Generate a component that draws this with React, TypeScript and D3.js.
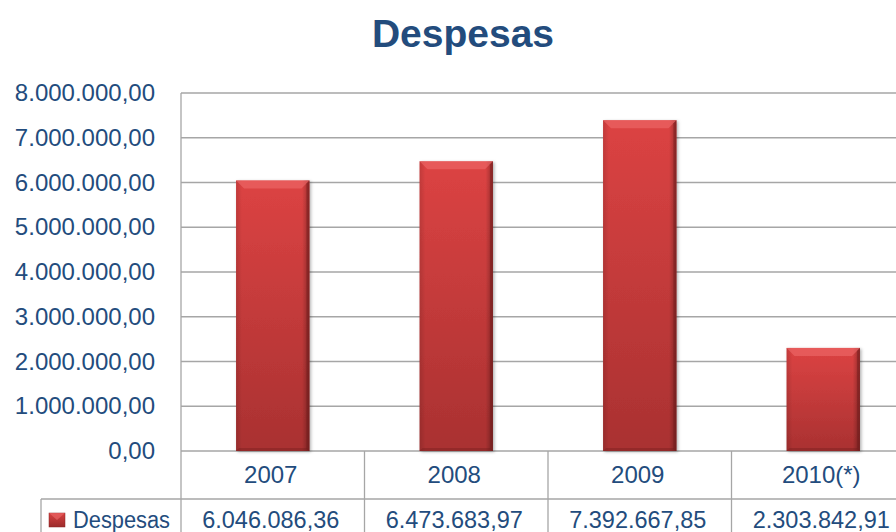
import React from "react";
import * as d3 from "d3";

const categories = ["2007", "2008", "2009", "2010(*)"];
const values = [6046086.36, 6473683.97, 7392667.85, 2303842.91];
const valueLabels = ["6.046.086,36", "6.473.683,97", "7.392.667,85", "2.303.842,91"];
const yTicks = [0, 1000000, 2000000, 3000000, 4000000, 5000000, 6000000, 7000000, 8000000];
const seriesName = "Despesas";
const title = "Despesas";

const W = 896;
const H = 532;
const left = 181;
const right = 915;
const top = 93;
const bottom = 451;
const headerBottom = 499;
const tableLeft = 41;
const textColor = "#234c7d";
const gridColor = "#a6a6a6";
const font = "'Liberation Sans', Arial, sans-serif";

function fmt(v: number) {
  const s = d3.format(",.2f")(v);
  return s.replace(/,/g, "#").replace(".", ",").replace(/#/g, ".");
}

export default function App() {
  const x = d3.scaleBand<string>().domain(categories).range([left, right]).paddingInner(0.6).paddingOuter(0.3);
  const xb = d3.scaleBand<string>().domain(categories).range([left, right]);
  const y = d3.scaleLinear().domain([0, 8000000]).range([bottom, top]);

  return (
    <svg width={W} height={H} style={{ display: "block", position: "absolute", left: 0, top: 0, background: "#fff" }}>
      <defs>
        <linearGradient id="barV" x1="0" y1="0" x2="0" y2="1">
          <stop offset="0" stopColor="#dc4343" />
          <stop offset="1" stopColor="#a93131" />
        </linearGradient>
        <linearGradient id="barH" x1="0" y1="0" x2="1" y2="0">
          <stop offset="0" stopColor="#000" stopOpacity="0.12" />
          <stop offset="0.08" stopColor="#000" stopOpacity="0" />
          <stop offset="0.9" stopColor="#000" stopOpacity="0" />
          <stop offset="1" stopColor="#000" stopOpacity="0.3" />
        </linearGradient>
        <linearGradient id="legV" x1="0" y1="0" x2="0" y2="1">
          <stop offset="0" stopColor="#d84040" />
          <stop offset="1" stopColor="#9c2c2c" />
        </linearGradient>
        <filter id="sh" x="-20%" y="-5%" width="140%" height="110%">
          <feDropShadow dx="1.5" dy="1" stdDeviation="1.5" floodColor="#000" floodOpacity="0.3" />
        </filter>
      </defs>
      <rect x={0} y={0} width={W} height={H} fill="#ffffff" />
      <text x={463} y={47} textAnchor="middle" fontFamily={font} fontWeight="bold" fontSize={39} fill="#234c7d">
        {title}
      </text>

      {yTicks.map((t) => (
        <g key={t}>
          <line x1={left} x2={right} y1={y(t)} y2={y(t)} stroke={gridColor} strokeWidth={1.3} />
          <text x={155} y={y(t) + 8} textAnchor="end" fontFamily={font} fontSize={24} fill={textColor}>
            {fmt(t)}
          </text>
        </g>
      ))}
      <line x1={left} x2={left} y1={top} y2={H} stroke={gridColor} strokeWidth={1.3} />

      {categories.map((c, i) => {
        const bx = x(c)!;
        const bw = x.bandwidth();
        const by = y(values[i]);
        const bh = bottom - by;
        const bev = 8;
        return (
          <g key={c}>
            <g filter="url(#sh)">
              <rect x={bx} y={by} width={bw} height={bh} fill="url(#barV)" />
            </g>
            <rect x={bx} y={by} width={bw} height={bh} fill="url(#barH)" />
            <path
              d={`M${bx},${by}L${bx + bw},${by}L${bx + bw - bev},${by + bev}L${bx + bev},${by + bev}Z`}
              fill="#f07070"
              opacity={0.55}
            />
            <path
              d={`M${bx + bw},${by}L${bx + bw},${bottom}L${bx + bw - 3},${bottom - 2}L${bx + bw - 3},${by + 3}Z`}
              fill="#6e1a1a"
              opacity={0.45}
            />
            <path
              d={`M${bx},${bottom}L${bx + bw},${bottom}L${bx + bw - 3},${bottom - 3}L${bx + 3},${bottom - 3}Z`}
              fill="#6e1a1a"
              opacity={0.35}
            />
          </g>
        );
      })}

      {/* data table */}
      <line x1={tableLeft} x2={W} y1={headerBottom} y2={headerBottom} stroke={gridColor} strokeWidth={1.3} />
      <line x1={tableLeft} x2={tableLeft} y1={headerBottom} y2={H} stroke={gridColor} strokeWidth={1.3} />
      {categories.map((c, i) => {
        const cx = xb(c)! + xb.bandwidth() / 2;
        return (
          <g key={"t" + c}>
            <line x1={xb(c)! + xb.bandwidth()} x2={xb(c)! + xb.bandwidth()} y1={bottom} y2={H} stroke={gridColor} strokeWidth={1.3} />
            <text x={cx - 2} y={483} textAnchor="middle" fontFamily={font} fontSize={24} fill={textColor}>
              {c}
            </text>
            <text x={cx - 2} y={528} textAnchor="middle" fontFamily={font} fontSize={23.5} fill={textColor}>
              {valueLabels[i]}
            </text>
          </g>
        );
      })}
      <rect x={49} y={513} width={16} height={14} fill="url(#legV)" stroke="#8a2424" strokeWidth={0.5} />
      <path d="M49,513L65,513L57,520Z" fill="#ef6a6a" opacity={0.6} />
      <text x={73} y={528} textLength={97} lengthAdjust="spacingAndGlyphs" fontFamily={font} fontSize={23.5} fill={textColor}>
        {seriesName}
      </text>
    </svg>
  );
}
